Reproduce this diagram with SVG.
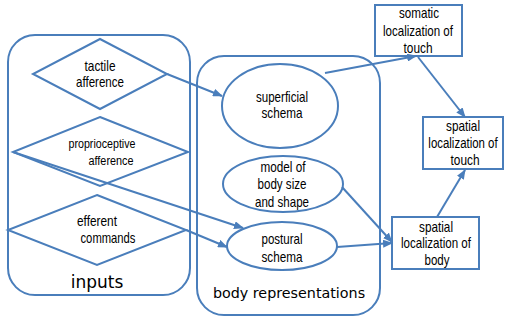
<svg xmlns="http://www.w3.org/2000/svg" width="506" height="320" viewBox="0 0 506 320">
<defs>
<style>
.s{fill:none;stroke:#4a7ebb;stroke-width:2}
.c{fill:none;stroke:#4a7ebb;stroke-width:2}
.t{font-family:"Liberation Sans",Arial,sans-serif;font-size:14.5px;fill:#000;text-anchor:middle}
.sm{font-size:12.5px}
.g{font-family:"DejaVu Sans",sans-serif;fill:#000;text-anchor:middle}
</style>
<marker id="ah" markerWidth="10" markerHeight="8" refX="9" refY="4" orient="auto" markerUnits="userSpaceOnUse">
<path d="M0,0 L10,4 L0,8 z" fill="#4a7ebb"/>
</marker>
</defs>
<rect width="506" height="320" fill="#fff"/>
<g id="inputs">
<rect class="s" x="8" y="35" width="182" height="260" rx="27"/>
<text class="g" x="97" y="288" font-size="17">inputs</text>
</g>
<g id="body-representations">
<rect class="s" x="197" y="56" width="183" height="259" rx="27"/>
<text class="g" x="289" y="298" font-size="14.3">body representations</text>
</g>
<g id="tactile">
<polygon class="s" points="100,39 167,74 100,109 33,74"/>
<text class="t" x="100" y="71" textLength="31" lengthAdjust="spacingAndGlyphs">tactile</text>
<text class="t" x="100" y="87" textLength="48" lengthAdjust="spacingAndGlyphs">afference</text>
</g>
<g id="proprioceptive">
<polygon class="s" points="100,117 188,152 100,186 13,152"/>
<text class="t sm" x="102" y="148" textLength="67" lengthAdjust="spacingAndGlyphs">proprioceptive</text>
<text class="t sm" x="111" y="165" textLength="45" lengthAdjust="spacingAndGlyphs">afference</text>
</g>
<g id="efferent">
<polygon class="s" points="97,195 186,230 97,265 8,230"/>
<text class="t" x="97" y="226" textLength="40" lengthAdjust="spacingAndGlyphs">efferent</text>
<text class="t" x="108" y="243" textLength="55" lengthAdjust="spacingAndGlyphs">commands</text>
</g>
<g id="superficial">
<ellipse class="s" cx="280" cy="106" rx="58" ry="42"/>
<text class="t" x="282" y="102" textLength="52" lengthAdjust="spacingAndGlyphs">superficial</text>
<text class="t" x="282" y="118" textLength="41" lengthAdjust="spacingAndGlyphs">schema</text>
</g>
<g id="model">
<ellipse class="s" cx="283" cy="184" rx="60" ry="28"/>
<text class="t" x="283" y="172" textLength="45" lengthAdjust="spacingAndGlyphs">model of</text>
<text class="t" x="282" y="189" textLength="49" lengthAdjust="spacingAndGlyphs">body size</text>
<text class="t" x="282" y="207" textLength="54" lengthAdjust="spacingAndGlyphs">and shape</text>
</g>
<g id="postural">
<ellipse class="s" cx="282" cy="246" rx="55" ry="24"/>
<text class="t" x="282" y="244" textLength="41" lengthAdjust="spacingAndGlyphs">postural</text>
<text class="t" x="282" y="262" textLength="41" lengthAdjust="spacingAndGlyphs">schema</text>
</g>
<g id="somatic">
<rect class="s" x="375" y="5" width="87" height="51"/>
<text class="t" x="419" y="18" textLength="40" lengthAdjust="spacingAndGlyphs">somatic</text>
<text class="t" x="418" y="36" textLength="70" lengthAdjust="spacingAndGlyphs">localization of</text>
<text class="t" x="418" y="53" textLength="29" lengthAdjust="spacingAndGlyphs">touch</text>
</g>
<g id="spatial-touch">
<rect class="s" x="423" y="117" width="80" height="52"/>
<text class="t" x="463" y="131" textLength="34" lengthAdjust="spacingAndGlyphs">spatial</text>
<text class="t" transform="translate(463,148) scale(0.79,1)" x="0" y="0">localization of</text>
<text class="t" x="465" y="165" textLength="29" lengthAdjust="spacingAndGlyphs">touch</text>
</g>
<g id="spatial-body">
<rect class="s" x="392" y="217" width="87" height="52"/>
<text class="t" x="436" y="232" textLength="34" lengthAdjust="spacingAndGlyphs">spatial</text>
<text class="t" x="436" y="248" textLength="70" lengthAdjust="spacingAndGlyphs">localization of</text>
<text class="t" x="437" y="265" textLength="25" lengthAdjust="spacingAndGlyphs">body</text>
</g>
<g id="connectors">
<line class="c" x1="167" y1="74" x2="222" y2="96" marker-end="url(#ah)"/>
<line class="c" x1="325" y1="73" x2="416" y2="56" marker-end="url(#ah)"/>
<line class="c" x1="418" y1="57" x2="465" y2="117" marker-end="url(#ah)"/>
<line class="c" x1="13" y1="152" x2="243" y2="228" marker-end="url(#ah)"/>
<line class="c" x1="186" y1="230" x2="227" y2="247" marker-end="url(#ah)"/>
<line class="c" x1="342" y1="187" x2="392" y2="242" marker-end="url(#ah)"/>
<line class="c" x1="337" y1="247" x2="392" y2="243" marker-end="url(#ah)"/>
<line class="c" x1="437" y1="217" x2="465" y2="170" marker-end="url(#ah)"/>
</g>
</svg>
